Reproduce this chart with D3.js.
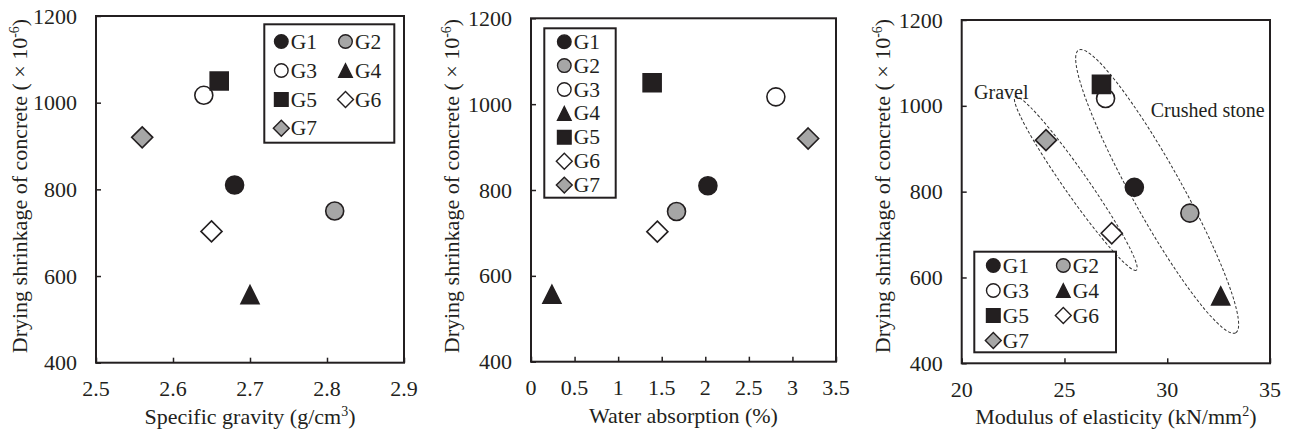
<!DOCTYPE html>
<html><head><meta charset="utf-8">
<script src="https://cdn.jsdelivr.net/npm/d3@7"></script>
<style>
body{margin:0;background:#fff}
svg{display:block}
text{font-family:"Liberation Serif","Times New Roman",serif;fill:#231f20}
</style>
</head><body>
<svg id="c" width="1290" height="434"></svg>
<script>
// ---------- data ----------
const groups = ["G1","G2","G3","G4","G5","G6","G7"];
const shrinkage = [810, 750, 1017, 557, 1050, 703, 920];
const specificGravity = [2.68, 2.81, 2.64, 2.70, 2.66, 2.65, 2.56];
const waterAbsorption = [2.03, 1.67, 2.81, 0.24, 1.39, 1.45, 3.18];
const modulus = [28.4, 31.1, 27.0, 32.6, 26.8, 27.3, 24.1];
const shapes = ["circle","circle","circle","triangle","square","diamond","diamond"];
const fills = ["#231f20","#a6a6a6","#ffffff","#231f20","#231f20","#ffffff","#a6a6a6"];
const yTicks = [400, 600, 800, 1000, 1200];
const sgTicks = [2.5, 2.6, 2.7, 2.8, 2.9];
const waTicks = [0, 0.5, 1, 1.5, 2, 2.5, 3, 3.5];
const moTicks = [20, 25, 30, 35];
const groupLabels = [
  {label:"Gravel", x:22.6, y:1021, x2:28.5, y2:617},
  {label:"Crushed stone", x:25.69, y:1130, x2:33.33, y2:471}
];
const annotationText = [
  {text:"Gravel", x:20.6, y:1015},
  {text:"Crushed stone", x:29.2, y:975}
];

// ---------- layout ----------
const INK = "#231f20";
const svg = d3.select("#c");

const panels = [
  {xs:specificGravity, ticks:sgTicks, dom:[2.5,2.9], L:96, R:404, T:16, B:362.7,
   xTitle:["Specific gravity (g/cm","3",")"], titleY:424, yTitleX:26.7,
   legend:{box:[264.3,24.3,394.3,142.7], cols:[281.3,345.5], rows:[41.5,70.5,99.5,128.3]}},
  {xs:waterAbsorption, ticks:waTicks, dom:[0,3.5], L:531, R:836, T:18.3, B:361.7,
   xTitle:["Water absorption (%)","",""], titleY:423, yTitleX:459.3,
   legend:{box:[544.3,28.3,615.7,197.7], cols:[564.3], rows:[41.7,65.6,89.5,113.4,137.3,161.2,185.1]}},
  {xs:modulus, ticks:moTicks, dom:[20,35], L:961.7, R:1270, T:20, B:363.3,
   xTitle:["Modulus of elasticity (kN/mm","2",")"], titleY:424, yTitleX:890,
   legend:{box:[974.3,251.7,1116,352.3], cols:[993.3,1063.3], rows:[265.5,290.5,315.5,340.5]},
   ellipses:true}
];

function markerPath(shape, s){
  const p = d3.path();
  if(shape==="circle"){ p.moveTo(s,0); p.arc(0,0,s,0,2*Math.PI); }
  else if(shape==="square"){ p.rect(-s,-s,2*s,2*s); }
  else if(shape==="triangle"){ p.moveTo(0,-s); p.lineTo(s,s); p.lineTo(-s,s); p.closePath(); }
  else if(shape==="diamond"){ const d=s*1.17; p.moveTo(0,-d); p.lineTo(d,0); p.lineTo(0,d); p.lineTo(-d,0); p.closePath(); }
  return p.toString();
}

panels.forEach((P, pi) => {
  const x = d3.scaleLinear().domain(P.dom).range([P.L, P.R]);
  const y = d3.scaleLinear().domain([400,1200]).range([P.B, P.T]);
  const g = svg.append("g");

  if(P.ellipses){
    groupLabels.forEach(e => {
      const x1=x(e.x), y1=y(e.y), x2=x(e.x2), y2=y(e.y2);
      const cx=(x1+x2)/2, cy=(y1+y2)/2;
      const a=Math.hypot(x2-x1,y2-y1)/2;
      const ang=Math.atan2(y2-y1,x2-x1)*180/Math.PI;
      const b = e.label==="Gravel" ? 12 : 25;
      g.append("ellipse").attr("cx",0).attr("cy",0).attr("rx",a).attr("ry",b)
        .attr("transform",`translate(${cx},${cy}) rotate(${ang})`)
        .attr("fill","none").attr("stroke","#333").attr("stroke-width",1)
        .attr("stroke-dasharray","3,2");
    });
    annotationText.forEach(t => {
      g.append("text").attr("x",x(t.x)).attr("y",y(t.y)).attr("font-size",20).text(t.text);
    });
  }

  g.append("rect").attr("x",P.L).attr("y",P.T).attr("width",P.R-P.L).attr("height",P.B-P.T)
    .attr("fill","none").attr("stroke",INK).attr("stroke-width",2);

  const ya = g.append("g").attr("transform",`translate(${P.L},0)`)
    .call(d3.axisRight(y).tickValues(yTicks).tickSize(5).tickFormat(""));
  ya.select(".domain").remove();
  ya.selectAll("line").attr("stroke",INK).attr("stroke-width",1.5);
  g.selectAll(".yl").data(yTicks).enter().append("text")
    .attr("x",P.L-19).attr("y",d=>y(d)).attr("text-anchor","end")
    .attr("dominant-baseline","central").attr("font-size",22).text(d=>d);

  const xa = g.append("g").attr("transform",`translate(0,${P.B})`)
    .call(d3.axisTop(x).tickValues(P.ticks).tickSize(5).tickFormat(""));
  xa.select(".domain").remove();
  xa.selectAll("line").attr("stroke",INK).attr("stroke-width",1.5);
  g.selectAll(".xl").data(P.ticks).enter().append("text")
    .attr("x",d=>x(d)).attr("y",P.B+26).attr("text-anchor","middle")
    .attr("dominant-baseline","central").attr("font-size",22).text(d=>d);

  const xt = g.append("text").attr("x",(P.L+P.R)/2).attr("y",P.titleY)
    .attr("text-anchor","middle").attr("font-size",22);
  xt.append("tspan").text(P.xTitle[0]);
  if(P.xTitle[1]) xt.append("tspan").attr("font-size",14).attr("baseline-shift","55%").text(P.xTitle[1]);
  if(P.xTitle[2]) xt.append("tspan").text(P.xTitle[2]);

  const yt = g.append("text").attr("transform",`translate(${P.yTitleX},186) rotate(-90)`)
    .attr("text-anchor","middle").attr("font-size",22);
  yt.append("tspan").text("Drying shrinkage of concrete ( \u00d7 10");
  yt.append("tspan").attr("font-size",14).attr("baseline-shift","55%").text("-6");
  yt.append("tspan").text(")");

  g.selectAll(".pt").data(groups).enter().append("path")
    .attr("d",(d,i)=>markerPath(shapes[i],9))
    .attr("transform",(d,i)=>`translate(${x(P.xs[i])},${y(shrinkage[i])})`)
    .attr("fill",(d,i)=>fills[i]).attr("stroke",INK).attr("stroke-width",1.6);

  const Lg = P.legend;
  g.append("rect").attr("x",Lg.box[0]).attr("y",Lg.box[1])
    .attr("width",Lg.box[2]-Lg.box[0]).attr("height",Lg.box[3]-Lg.box[1])
    .attr("fill","#fff").attr("stroke",INK).attr("stroke-width",2);
  const nc = Lg.cols.length;
  groups.forEach((gname,i) => {
    const cx = Lg.cols[i % nc], cy = Lg.rows[Math.floor(i / nc)];
    g.append("path").attr("d",markerPath(shapes[i],6.8))
      .attr("transform",`translate(${cx},${cy})`)
      .attr("fill",fills[i]).attr("stroke",INK).attr("stroke-width",1.4);
    g.append("text").attr("x",cx+9.5).attr("y",cy).attr("dominant-baseline","central")
      .attr("font-size",21.5).text(gname);
  });
});
</script>
</body></html>
